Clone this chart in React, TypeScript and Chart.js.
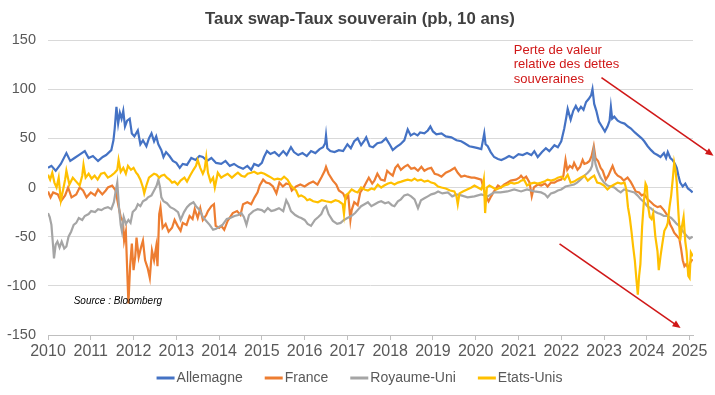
import React, { useEffect, useRef } from "react";
import { Chart, registerables } from "chart.js";

Chart.register(...registerables);

const TITLE = "Taux swap-Taux souverain (pb, 10 ans)";
const SERIES_NAMES = ["Allemagne", "France", "Royaume-Uni", "Etats-Unis"];
const SERIES_COLORS = ["#4472C4", "#ED7D31", "#A5A5A5", "#FFC000"];
const YEAR_TICKS = [2010, 2011, 2012, 2013, 2014, 2015, 2016, 2017, 2018, 2019, 2020, 2021, 2022, 2023, 2024, 2025];
const Y_TICKS = [-150, -100, -50, 0, 50, 100, 150];
const NOTE_LINES = ["Perte de valeur", "relative des dettes", "souveraines"];
const SOURCE_TEXT = "Source : Bloomberg";

// [year, pb]
const allemagne: number[][] = [
  [2010.0, 20], [2010.08, 22], [2010.18, 17], [2010.3, 24], [2010.43, 35], [2010.52, 27], [2010.62, 30],
  [2010.72, 33], [2010.86, 37], [2010.95, 30], [2011.05, 32], [2011.17, 27], [2011.28, 31], [2011.36, 33],
  [2011.48, 38], [2011.53, 48], [2011.56, 60], [2011.6, 82], [2011.64, 65], [2011.68, 76], [2011.72, 70],
  [2011.76, 78], [2011.8, 62], [2011.85, 68], [2011.91, 70], [2011.96, 55], [2012.02, 52], [2012.1, 58],
  [2012.16, 44], [2012.22, 48], [2012.3, 42], [2012.36, 50], [2012.42, 55], [2012.48, 47], [2012.53, 52],
  [2012.58, 44], [2012.65, 38], [2012.7, 31], [2012.76, 36], [2012.84, 32], [2012.92, 27], [2013.0, 25],
  [2013.08, 20], [2013.15, 24], [2013.25, 23], [2013.35, 30], [2013.45, 28], [2013.54, 32], [2013.62, 31],
  [2013.72, 27], [2013.82, 30], [2013.93, 25], [2014.05, 24], [2014.15, 27], [2014.25, 22], [2014.35, 24],
  [2014.45, 21], [2014.56, 19], [2014.66, 22], [2014.75, 18], [2014.82, 24], [2014.92, 22], [2015.0, 25],
  [2015.05, 31], [2015.12, 37], [2015.2, 34], [2015.3, 36], [2015.4, 32], [2015.5, 37], [2015.58, 33],
  [2015.68, 41], [2015.75, 36], [2015.85, 33], [2015.95, 35], [2016.05, 32], [2016.15, 37], [2016.25, 35],
  [2016.35, 39], [2016.43, 41], [2016.48, 45], [2016.5, 53], [2016.53, 40], [2016.6, 37], [2016.7, 36],
  [2016.8, 38], [2016.9, 37], [2017.0, 44], [2017.08, 40], [2017.16, 47], [2017.24, 50], [2017.32, 43],
  [2017.4, 48], [2017.44, 51], [2017.52, 42], [2017.6, 41], [2017.7, 45], [2017.8, 46], [2017.9, 50],
  [2018.0, 43], [2018.06, 38], [2018.14, 41], [2018.24, 44], [2018.33, 48], [2018.41, 59], [2018.48, 53],
  [2018.56, 55], [2018.64, 53], [2018.7, 56], [2018.8, 55], [2018.88, 58], [2018.94, 62], [2019.0, 57],
  [2019.08, 54], [2019.2, 55], [2019.3, 52], [2019.43, 51], [2019.55, 48], [2019.66, 47], [2019.74, 45],
  [2019.85, 42], [2019.95, 41], [2020.05, 40], [2020.13, 39], [2020.17, 48], [2020.2, 55], [2020.23, 44],
  [2020.28, 42], [2020.35, 36], [2020.43, 31], [2020.52, 29], [2020.6, 28], [2020.7, 30], [2020.78, 32],
  [2020.88, 30], [2021.0, 34], [2021.1, 33], [2021.2, 35], [2021.3, 33], [2021.37, 37], [2021.45, 31],
  [2021.55, 36], [2021.64, 40], [2021.72, 37], [2021.84, 43], [2021.92, 41], [2022.0, 47], [2022.07, 60],
  [2022.12, 72], [2022.15, 80], [2022.22, 69], [2022.28, 78], [2022.34, 83], [2022.4, 78], [2022.46, 82],
  [2022.52, 79], [2022.58, 87], [2022.64, 90], [2022.7, 94], [2022.73, 100], [2022.77, 85], [2022.82, 78],
  [2022.88, 67], [2022.95, 62], [2023.02, 57], [2023.08, 62], [2023.13, 68], [2023.16, 82], [2023.19, 70],
  [2023.24, 72], [2023.32, 68], [2023.4, 66], [2023.48, 65], [2023.56, 62], [2023.63, 60], [2023.72, 56],
  [2023.8, 53], [2023.88, 50], [2023.94, 47], [2024.02, 42], [2024.1, 38], [2024.17, 35], [2024.25, 33],
  [2024.32, 31], [2024.4, 35], [2024.45, 30], [2024.49, 36], [2024.55, 30], [2024.6, 28], [2024.66, 24],
  [2024.7, 20], [2024.74, 12], [2024.78, 5], [2024.84, 1], [2024.9, 4], [2024.96, -1], [2025.02, -3],
  [2025.07, -5],
];

const france: number[][] = [
  [2010.0, -4], [2010.06, -10], [2010.12, -5], [2010.23, -7], [2010.3, -14], [2010.4, -8], [2010.47, 0],
  [2010.55, -10], [2010.66, -7], [2010.74, 0], [2010.82, -3], [2010.9, -10], [2011.0, -5], [2011.1, -8],
  [2011.17, -2], [2011.27, -7], [2011.35, -3], [2011.4, 0], [2011.5, 2], [2011.58, -3], [2011.64, -17],
  [2011.7, -30], [2011.75, -34], [2011.78, -54], [2011.82, -45], [2011.85, -82], [2011.88, -118],
  [2011.92, -80], [2011.96, -57], [2012.0, -84], [2012.04, -70], [2012.07, -51], [2012.12, -71],
  [2012.18, -60], [2012.22, -54], [2012.27, -74], [2012.33, -82], [2012.38, -92], [2012.43, -64],
  [2012.48, -74], [2012.53, -60], [2012.56, -80], [2012.6, -27], [2012.63, -20], [2012.68, -41],
  [2012.75, -37], [2012.82, -45], [2012.9, -41], [2012.96, -33], [2013.03, -39], [2013.1, -44],
  [2013.15, -36], [2013.24, -38], [2013.31, -29], [2013.38, -32], [2013.43, -22], [2013.5, -31],
  [2013.56, -21], [2013.62, -33], [2013.7, -28], [2013.74, -24], [2013.82, -19], [2013.88, -17],
  [2013.92, -39], [2014.0, -41], [2014.05, -39], [2014.12, -43], [2014.2, -34], [2014.32, -26],
  [2014.42, -24], [2014.5, -28], [2014.56, -17], [2014.66, -15], [2014.75, -17], [2014.83, -10],
  [2014.9, -5], [2014.95, 2], [2015.03, 8], [2015.1, 5], [2015.18, 4], [2015.26, 1], [2015.34, -6],
  [2015.41, 5], [2015.49, 1], [2015.57, 4], [2015.65, 3], [2015.7, -3], [2015.8, 1], [2015.9, 3],
  [2016.0, 1], [2016.1, 4], [2016.2, 6], [2016.3, 3], [2016.4, 11], [2016.47, 17], [2016.5, 21],
  [2016.56, 14], [2016.66, 7], [2016.74, 3], [2016.8, -3], [2016.9, -6], [2016.96, -12], [2017.02, -8],
  [2017.07, -33], [2017.1, -23], [2017.16, -15], [2017.24, -18], [2017.3, -5], [2017.38, 0], [2017.44, 5],
  [2017.5, 10], [2017.58, 4], [2017.63, 7], [2017.7, 14], [2017.78, 8], [2017.87, 7], [2017.93, 17],
  [2018.0, 14], [2018.06, 12], [2018.12, 20], [2018.18, 23], [2018.25, 18], [2018.33, 21], [2018.41, 23],
  [2018.49, 19], [2018.57, 20], [2018.65, 17], [2018.73, 21], [2018.8, 17], [2018.88, 19], [2018.96, 20],
  [2019.04, 14], [2019.12, 13], [2019.2, 11], [2019.3, 15], [2019.4, 17], [2019.51, 20], [2019.58, 15],
  [2019.66, 11], [2019.74, 12], [2019.81, 11], [2019.9, 10], [2019.97, 10], [2020.05, 9], [2020.13, 8],
  [2020.19, -2], [2020.24, -9], [2020.3, -14], [2020.36, -9], [2020.4, -6], [2020.46, -2], [2020.52, 2],
  [2020.59, 0], [2020.66, 3], [2020.74, 5], [2020.82, 7], [2020.94, 8], [2021.02, 10], [2021.06, 12],
  [2021.12, 9], [2021.18, 11], [2021.26, 5], [2021.31, -9], [2021.36, 0], [2021.45, 3], [2021.53, 2],
  [2021.62, 4], [2021.68, 1], [2021.76, 5], [2021.84, 5], [2021.92, 7], [2022.0, 8], [2022.05, 12],
  [2022.1, 28], [2022.14, 18], [2022.2, 22], [2022.26, 20], [2022.3, 25], [2022.38, 18], [2022.44, 21],
  [2022.5, 28], [2022.54, 24], [2022.6, 25], [2022.66, 27], [2022.71, 32], [2022.76, 42], [2022.8, 30],
  [2022.86, 27], [2022.92, 20], [2022.97, 17], [2023.04, 8], [2023.1, 12], [2023.16, 18], [2023.2, 22],
  [2023.26, 15], [2023.32, 12], [2023.4, 10], [2023.46, 7], [2023.55, 10], [2023.62, 6], [2023.67, 2],
  [2023.74, -4], [2023.82, -5], [2023.88, -8], [2023.94, -7], [2024.02, -12], [2024.1, -15],
  [2024.17, -18], [2024.25, -20], [2024.32, -19], [2024.4, -23], [2024.49, -29], [2024.55, -38],
  [2024.6, -42], [2024.64, -46], [2024.72, -50], [2024.76, -52], [2024.8, -62], [2024.84, -74],
  [2024.88, -80], [2024.92, -78], [2024.97, -82], [2025.02, -76], [2025.07, -73],
];

const royaumeUni: number[][] = [
  [2010.0, -26], [2010.04, -30], [2010.08, -38], [2010.12, -60], [2010.14, -72], [2010.18, -58],
  [2010.22, -55], [2010.27, -61], [2010.32, -55], [2010.38, -62], [2010.43, -60], [2010.48, -50],
  [2010.54, -45], [2010.6, -38], [2010.66, -36], [2010.72, -31], [2010.8, -33], [2010.86, -29],
  [2010.95, -27], [2011.01, -24], [2011.1, -25], [2011.17, -22], [2011.25, -23], [2011.32, -21],
  [2011.4, -20], [2011.48, -22], [2011.54, -15], [2011.57, -7], [2011.62, 5], [2011.66, -20],
  [2011.7, -38], [2011.73, -45], [2011.77, -30], [2011.82, -37], [2011.88, -33], [2011.93, -36],
  [2011.98, -25], [2012.05, -22], [2012.1, -17], [2012.16, -19], [2012.22, -14], [2012.3, -12],
  [2012.34, -10], [2012.42, -8], [2012.48, -3], [2012.54, 2], [2012.58, 8], [2012.62, 0], [2012.65, -10],
  [2012.7, -14], [2012.78, -16], [2012.86, -20], [2012.95, -22], [2013.04, -25], [2013.1, -33],
  [2013.18, -25], [2013.25, -20], [2013.32, -17], [2013.4, -15], [2013.46, -19], [2013.55, -23],
  [2013.62, -30], [2013.7, -34], [2013.78, -38], [2013.86, -43], [2013.93, -42], [2014.0, -40],
  [2014.08, -38], [2014.18, -32], [2014.26, -31], [2014.36, -29], [2014.45, -28], [2014.52, -26],
  [2014.58, -30], [2014.64, -38], [2014.7, -28], [2014.8, -24], [2014.9, -22], [2015.0, -23],
  [2015.06, -25], [2015.14, -21], [2015.22, -24], [2015.3, -23], [2015.4, -21], [2015.5, -24],
  [2015.57, -13], [2015.62, -17], [2015.68, -24], [2015.78, -28], [2015.86, -30], [2015.92, -31],
  [2016.0, -33], [2016.07, -37], [2016.15, -39], [2016.24, -33], [2016.32, -30], [2016.39, -27],
  [2016.45, -21], [2016.5, -19], [2016.56, -27], [2016.66, -34], [2016.76, -37], [2016.84, -36],
  [2016.92, -33], [2017.0, -31], [2017.09, -29], [2017.18, -26], [2017.26, -22], [2017.32, -19],
  [2017.4, -17], [2017.48, -15], [2017.56, -19], [2017.64, -17], [2017.72, -15], [2017.79, -14],
  [2017.88, -16], [2017.96, -15], [2018.04, -18], [2018.1, -19], [2018.18, -14], [2018.25, -12],
  [2018.33, -8], [2018.41, -7], [2018.49, -9], [2018.57, -12], [2018.65, -21], [2018.72, -13],
  [2018.8, -11], [2018.88, -9], [2018.96, -7], [2019.04, -6], [2019.12, -4], [2019.22, -6],
  [2019.35, -5], [2019.45, -9], [2019.55, -7], [2019.66, -8], [2019.81, -10], [2019.97, -9],
  [2020.13, -7], [2020.28, -9], [2020.43, -5], [2020.58, -5], [2020.74, -4], [2020.9, -2],
  [2021.06, -4], [2021.2, -2], [2021.37, -4], [2021.53, -5], [2021.62, -7], [2021.68, -10],
  [2021.76, -6], [2021.84, -5], [2021.92, -3], [2022.0, -2], [2022.1, 1], [2022.2, 2], [2022.3, 3],
  [2022.37, 5], [2022.45, 8], [2022.54, 12], [2022.62, 15], [2022.68, 18], [2022.72, 22], [2022.76, 37],
  [2022.8, 24], [2022.85, 17], [2022.92, 10], [2023.0, 5], [2023.08, 2], [2023.16, 1], [2023.24, 0],
  [2023.32, -3], [2023.39, -5], [2023.47, -2], [2023.55, -3], [2023.63, -4], [2023.71, -5],
  [2023.78, -8], [2023.86, -12], [2023.94, -15], [2024.01, -19], [2024.09, -21], [2024.17, -24],
  [2024.25, -26], [2024.32, -27], [2024.4, -29], [2024.49, -29], [2024.57, -31], [2024.64, -34],
  [2024.7, -37], [2024.76, -39], [2024.82, -43], [2024.87, -46], [2024.93, -49], [2025.0, -52],
  [2025.07, -50],
];

const etatsUnis: number[][] = [
  [2010.0, 13], [2010.05, 8], [2010.1, 15], [2010.15, 5], [2010.2, 0], [2010.25, 10], [2010.3, -13],
  [2010.35, -3], [2010.4, 8], [2010.43, 17], [2010.5, 3], [2010.58, 10], [2010.66, 6], [2010.74, 2],
  [2010.8, 12], [2010.83, 23], [2010.88, 10], [2010.95, 14], [2011.02, 9], [2011.09, 12], [2011.16, 8],
  [2011.24, 14], [2011.32, 15], [2011.4, 10], [2011.48, 12], [2011.56, 15], [2011.62, 18], [2011.65, 28],
  [2011.7, 16], [2011.76, 20], [2011.82, 14], [2011.87, 22], [2011.94, 18], [2012.0, 20], [2012.06, 15],
  [2012.1, 13], [2012.16, 8], [2012.22, 0], [2012.25, -6], [2012.3, 2], [2012.36, 10], [2012.42, 12],
  [2012.48, 14], [2012.54, 13], [2012.6, 10], [2012.65, 12], [2012.72, 13], [2012.78, 10], [2012.84, 8],
  [2012.9, 5], [2012.96, 6], [2013.03, 3], [2013.1, 7], [2013.19, 10], [2013.25, 6], [2013.32, 12],
  [2013.4, 18], [2013.46, 22], [2013.5, 28], [2013.56, 20], [2013.62, 14], [2013.66, 18], [2013.7, 31],
  [2013.74, 15], [2013.8, 6], [2013.86, 10], [2013.9, 0], [2013.97, 15], [2014.05, 10], [2014.12, 12],
  [2014.2, 14], [2014.3, 10], [2014.38, 13], [2014.44, 15], [2014.52, 12], [2014.6, 11], [2014.67, 14],
  [2014.75, 15], [2014.82, 16], [2014.9, 14], [2014.98, 15], [2015.06, 14], [2015.14, 12], [2015.22, 10],
  [2015.29, 8], [2015.37, 9], [2015.45, 8], [2015.52, 11], [2015.6, 8], [2015.68, 2], [2015.75, -1],
  [2015.8, -3], [2015.86, -9], [2015.92, -8], [2016.0, -10], [2016.06, -13], [2016.12, -12],
  [2016.2, -14], [2016.31, -15], [2016.4, -13], [2016.5, -14], [2016.62, -15], [2016.72, -13],
  [2016.8, -14], [2016.89, -17], [2016.92, -27], [2016.96, -8], [2017.02, -6], [2017.1, -2],
  [2017.18, -4], [2017.24, -5], [2017.32, 0], [2017.4, -2], [2017.48, -3], [2017.56, -1], [2017.63, -2],
  [2017.71, 3], [2017.79, 0], [2017.86, 2], [2017.95, 4], [2018.02, 5], [2018.1, 3], [2018.18, 5],
  [2018.26, 6], [2018.33, 7], [2018.41, 8], [2018.5, 7], [2018.57, 9], [2018.64, 7], [2018.72, 8],
  [2018.8, 6], [2018.88, 7], [2018.96, 5], [2019.04, 4], [2019.12, 1], [2019.2, 0], [2019.3, -1],
  [2019.4, -3], [2019.5, -4], [2019.55, -9], [2019.58, -17], [2019.62, -6], [2019.7, -4], [2019.8, -2],
  [2019.9, 0], [2019.97, 2], [2020.05, 0], [2020.13, -2], [2020.17, 3], [2020.19, 8], [2020.22, -26],
  [2020.26, 0], [2020.32, 2], [2020.4, 0], [2020.48, -2], [2020.58, 0], [2020.67, 2], [2020.75, 3],
  [2020.82, 5], [2020.9, 4], [2021.0, 5], [2021.06, 7], [2021.13, 8], [2021.2, 2], [2021.28, 4],
  [2021.37, 5], [2021.45, 4], [2021.53, 5], [2021.6, 6], [2021.68, 8], [2021.76, 7], [2021.84, 8],
  [2021.92, 10], [2022.0, 11], [2022.08, 8], [2022.15, 13], [2022.22, 5], [2022.3, 6], [2022.37, 8],
  [2022.45, 10], [2022.54, 12], [2022.62, 7], [2022.7, 10], [2022.77, 12], [2022.84, 5], [2022.92, 4],
  [2023.0, 2], [2023.08, -2], [2023.16, 1], [2023.24, 3], [2023.32, 5], [2023.4, 4], [2023.48, 5],
  [2023.52, -2], [2023.56, -20], [2023.6, -30], [2023.64, -44], [2023.68, -60], [2023.72, -74],
  [2023.76, -95], [2023.79, -109], [2023.82, -90], [2023.85, -78], [2023.89, -40], [2023.93, -15],
  [2023.97, 4], [2024.0, 1], [2024.03, -19], [2024.07, -30], [2024.11, -32], [2024.15, -26],
  [2024.2, -50], [2024.25, -65], [2024.28, -84], [2024.32, -70], [2024.36, -58], [2024.41, -44],
  [2024.46, -40], [2024.49, -36], [2024.53, -20], [2024.57, -8], [2024.61, 10], [2024.64, 25],
  [2024.67, 18], [2024.7, 5], [2024.74, -26], [2024.78, -54], [2024.82, -40], [2024.86, -30],
  [2024.9, -55], [2024.93, -65], [2024.97, -90], [2025.0, -92], [2025.03, -66], [2025.08, -70],
];

const SERIES = [allemagne, france, royaumeUni, etatsUnis];

const FONT = "'Liberation Sans', Arial, Helvetica, sans-serif";
const RED = "#D01818";
const TEXT_GRAY = "#595959";

// annotation anchors in data coordinates [year, value]
const NOTE_ANCHOR = [2020.89, 139.5];
const SOURCE_ANCHOR = [2010.6, -116];
const ARROWS = [
  [2022.94, 111.7, 2025.56, 32.3],
  [2021.96, -57.3, 2024.79, -142.9],
];

function drawArrow(ctx: CanvasRenderingContext2D, x1: number, y1: number, x2: number, y2: number) {
  const ang = Math.atan2(y2 - y1, x2 - x1);
  const head = 8;
  const half = 3.5;
  ctx.beginPath();
  ctx.moveTo(x1, y1);
  ctx.lineTo(x2 - Math.cos(ang) * head * 0.8, y2 - Math.sin(ang) * head * 0.8);
  ctx.stroke();
  ctx.beginPath();
  ctx.moveTo(x2, y2);
  ctx.lineTo(x2 - Math.cos(ang) * head - Math.sin(ang) * half, y2 - Math.sin(ang) * head + Math.cos(ang) * half);
  ctx.lineTo(x2 - Math.cos(ang) * head + Math.sin(ang) * half, y2 - Math.sin(ang) * head - Math.cos(ang) * half);
  ctx.closePath();
  ctx.fill();
}

// title + legend + annotations
const decorPlugin = {
  id: "decorCustom",
  afterDraw(chart: any) {
    const { ctx } = chart;
    const xs = chart.scales.x;
    const ys = chart.scales.y;
    ctx.save();

    // title
    ctx.fillStyle = "#404040";
    ctx.font = `bold 16.8px ${FONT}`;
    ctx.textAlign = "center";
    ctx.textBaseline = "middle";
    ctx.fillText(TITLE, 360, 19.5);

    // legend
    ctx.font = `14px ${FONT}`;
    ctx.textAlign = "left";
    const lineLen = 18;
    const gapText = 2;
    const gapItem = 22;
    const items = chart.data.datasets.map((d: any) => ({
      label: d.label as string,
      color: d.borderColor as string,
      w: ctx.measureText(d.label).width,
    }));
    const total = items.reduce((s: number, it: any) => s + lineLen + gapText + it.w, 0) + gapItem * (items.length - 1);
    let lx = 359.5 - total / 2;
    const ly = 378;
    items.forEach((it: any) => {
      ctx.strokeStyle = it.color;
      ctx.lineWidth = 3;
      ctx.beginPath();
      ctx.moveTo(lx, ly);
      ctx.lineTo(lx + lineLen, ly);
      ctx.stroke();
      ctx.fillStyle = TEXT_GRAY;
      ctx.fillText(it.label, lx + lineLen + gapText, ly);
      lx += lineLen + gapText + it.w + gapItem;
    });

    // annotations
    ctx.fillStyle = RED;
    ctx.strokeStyle = RED;
    ctx.lineWidth = 1.6;
    ctx.font = `13px ${FONT}`;
    const nx = xs.getPixelForValue(NOTE_ANCHOR[0]);
    const ny = ys.getPixelForValue(NOTE_ANCHOR[1]);
    NOTE_LINES.forEach((line, i) => ctx.fillText(line, nx, ny + i * 14.4));
    ARROWS.forEach((a) => {
      drawArrow(ctx, xs.getPixelForValue(a[0]), ys.getPixelForValue(a[1]), xs.getPixelForValue(a[2]), ys.getPixelForValue(a[3]));
    });
    ctx.fillStyle = "#000000";
    ctx.font = `italic 10px ${FONT}`;
    ctx.fillText(SOURCE_TEXT, xs.getPixelForValue(SOURCE_ANCHOR[0]), ys.getPixelForValue(SOURCE_ANCHOR[1]));
    ctx.restore();
  },
};

export default function App() {
  const canvasRef = useRef<HTMLCanvasElement | null>(null);

  useEffect(() => {
    if (!canvasRef.current) return;
    const datasets = SERIES.map((s, i) => ({
      label: SERIES_NAMES[i],
      data: s.map((p) => ({ x: p[0], y: p[1] })),
      borderColor: SERIES_COLORS[i],
      backgroundColor: SERIES_COLORS[i],
      borderWidth: 2.2,
      pointRadius: 0,
      pointHoverRadius: 0,
      tension: 0,
      fill: false,
      order: SERIES.length - i,
    }));
    const chart = new Chart(canvasRef.current, {
      type: "line",
      data: { datasets },
      plugins: [decorPlugin],
      options: {
        animation: false,
        responsive: false,
        maintainAspectRatio: false,
        layout: { padding: { left: 0, right: 22, top: 40, bottom: 31 } },
        plugins: {
          title: { display: false },
          legend: { display: false },
          tooltip: { enabled: false },
        },
        scales: {
          x: {
            type: "linear",
            min: 2010,
            max: 2025.08,
            afterBuildTicks: (scale: any) => {
              scale.ticks = YEAR_TICKS.map((v) => ({ value: v }));
            },
            ticks: {
              autoSkip: false,
              maxRotation: 0,
              padding: 2.4,
              color: TEXT_GRAY,
              font: { family: FONT, size: 16 },
              callback: (v: any) => String(v),
            },
            grid: { drawOnChartArea: false, drawTicks: true, tickLength: 5, tickColor: "#BFBFBF", color: "#BFBFBF" },
            border: { display: true, color: "#BFBFBF", width: 1 },
          },
          y: {
            type: "linear",
            min: -150,
            max: 150,
            afterBuildTicks: (scale: any) => {
              scale.ticks = Y_TICKS.map((v) => ({ value: v }));
            },
            afterFit: (scale: any) => {
              scale.width = 48;
            },
            ticks: {
              padding: 12,
              color: TEXT_GRAY,
              font: { family: FONT, size: 14.5 },
              callback: (v: any) => String(v),
            },
            grid: { color: "#D9D9D9", drawTicks: false, lineWidth: 1 },
            border: { display: false },
          },
        },
      },
    });
    return () => chart.destroy();
  }, []);

  return (
    <div style={{ position: "absolute", left: 0, top: 0, width: 715, height: 395, background: "#ffffff" }}>
      <canvas ref={canvasRef} width={715} height={395} style={{ display: "block" }} />
    </div>
  );
}
